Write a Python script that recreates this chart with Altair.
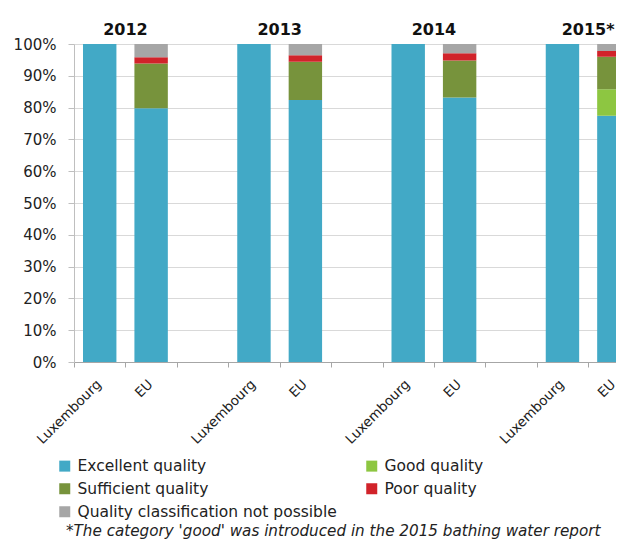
import altair as alt
import pandas as pd

# ---------------- data ----------------
years = ["2012", "2013", "2014", "2015"]
year_labels = ["2012", "2013", "2014", "2015*"]
categories = [
    "Excellent quality",
    "Good quality",
    "Sufficient quality",
    "Poor quality",
    "Quality classification not possible",
]
colors = ["#42A9C6", "#8DC641", "#77933C", "#D1232A", "#A6A6A6"]

lux_excellent = [100, 100, 100, 100]
eu_excellent = [79.8, 82.4, 83.2, 77.4]
eu_good = [0, 0, 0, 8.4]
eu_sufficient = [14.1, 12.0, 11.6, 10.2]
eu_poor = [1.9, 2.1, 2.3, 1.8]
eu_not_possible = [4.2, 3.5, 2.9, 2.2]

footnote = "*The category 'good' was introduced  in the 2015 bathing water report"

# ---------------- tables ----------------
slots = []
for y in years:
    slots += [f"Luxembourg {y}", f"EU {y}", f"gap {y}"]

rows = []
eu_series = [eu_excellent, eu_good, eu_sufficient, eu_poor, eu_not_possible]
for i, y in enumerate(years):
    rows.append(dict(slot=f"Luxembourg {y}", category=categories[0],
                     value=lux_excellent[i], rank=0))
    for k, series in enumerate(eu_series):
        if series[i] > 0:
            rows.append(dict(slot=f"EU {y}", category=categories[k],
                             value=series[i], rank=k))
df = pd.DataFrame(rows)
yr = pd.DataFrame({"slot": [f"Luxembourg {y}" for y in years], "label": year_labels})
fn = pd.DataFrame({"t": [footnote]})

FONT = "DejaVu Sans"
TXT = "#222222"
HALF_STEP = 617 / 12 / 2

xscale = alt.Scale(domain=slots, range=[0, 617], paddingInner=0.35, paddingOuter=0.175)

bars = alt.Chart(df).mark_bar().encode(
    x=alt.X("slot:N", scale=xscale, title=None,
            axis=alt.Axis(labelExpr="indexof(datum.value, 'gap') >= 0 ? '' : split(datum.value, ' ')[0]",
                          labelAngle=-45, labelAlign="right",
                          labelPadding=10, labelFontSize=13.5, labelFont=FONT, labelColor=TXT,
                          tickOffset=-HALF_STEP, labelOffset=HALF_STEP - 6,
                          tickSize=5, tickColor="#A6A6A6",
                          domainColor="#A6A6A6", grid=False)),
    y=alt.Y("value:Q", stack="zero", title=None,
            scale=alt.Scale(domain=[0, 100], nice=False),
            axis=alt.Axis(values=list(range(0, 101, 10)), labelExpr="datum.value + '%'",
                          labelFontSize=15, labelFont=FONT, labelColor=TXT,
                          labelPadding=12, tickSize=6, tickColor="#BFBFBF",
                          domainColor="#BFBFBF", gridColor="#D9D9D9")),
    color=alt.Color("category:N", scale=alt.Scale(domain=categories, range=colors),
                    legend=alt.Legend(orient="none", legendX=-17, legendY=414, columns=2,
                                      direction="horizontal",
                                      columnPadding=27, rowPadding=6, title=None,
                                      symbolType="square", symbolSize=121,
                                      symbolStrokeWidth=0, labelFont=FONT,
                                      labelFontSize=15.5, labelColor=TXT, labelLimit=400,
                                      labelOffset=5)),
    order=alt.Order("rank:Q"),
)

year_text = alt.Chart(yr).mark_text(fontWeight="bold", fontSize=16, font=FONT,
                                    color="#111111", dx=HALF_STEP, baseline="middle").encode(
    x=alt.X("slot:N", scale=xscale),
    y=alt.value(-14),
    text="label:N",
)

foot = alt.Chart(fn).mark_text(font=FONT, fontSize=15.2, fontStyle="italic", color=TXT,
                               align="left", baseline="alphabetic").encode(
    x=alt.value(-8),
    y=alt.value(492),
    text="t:N",
)

chart = alt.layer(bars, year_text, foot).properties(
    width=542,
    height=318,
    background="white",
    autosize=alt.AutoSizeParams(type="none"),
    padding={"left": 66, "top": 36, "right": 0, "bottom": 178},
).configure_view(stroke=None)

chart.save("out.html", embed_options={"renderer": "svg", "actions": False})
